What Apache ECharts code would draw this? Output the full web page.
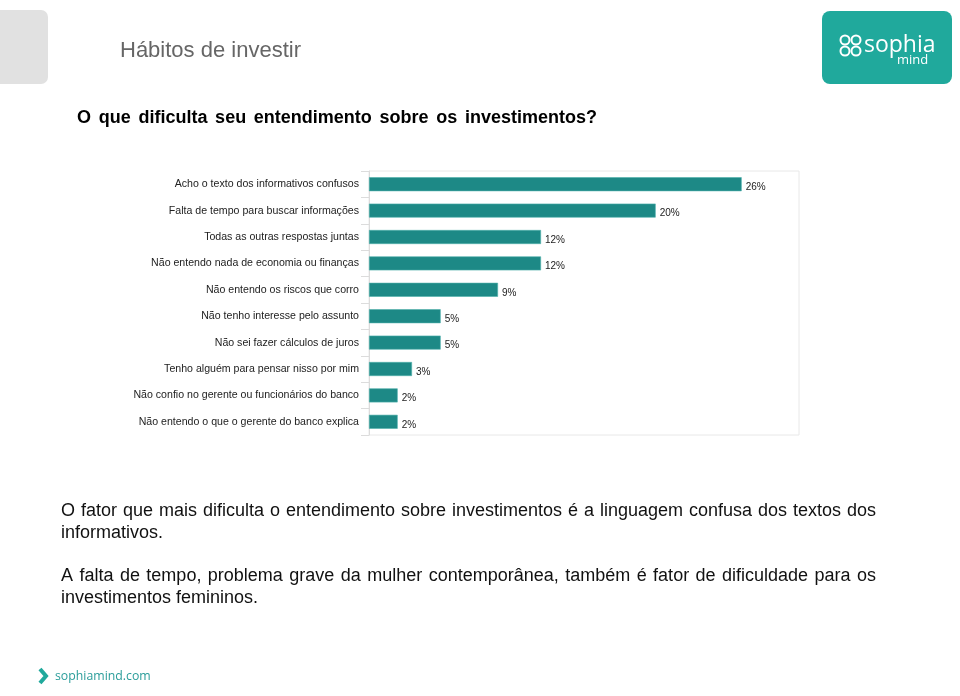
<!DOCTYPE html>
<html><head><meta charset="utf-8">
<script src="https://cdn.jsdelivr.net/npm/echarts@6/dist/echarts.min.js"></script>
<style>html,body{margin:0;padding:0;background:#fff}#c{width:960px;height:696px}</style>
</head><body><div id="c"></div><script>
// ---- data ----
const categories = [
  'Acho o texto dos informativos confusos',
  'Falta de tempo para buscar informações',
  'Todas as outras respostas juntas',
  'Não entendo nada de economia ou finanças',
  'Não entendo os riscos que corro',
  'Não tenho interesse pelo assunto',
  'Não sei fazer cálculos de juros',
  'Tenho alguém para pensar nisso por mim',
  'Não confio no gerente ou funcionários do banco',
  'Não entendo o que o gerente do banco explica'
];
const values = [26, 20, 12, 12, 9, 5, 5, 3, 2, 2];
const xMax = 30;
const pageTitle = 'Hábitos de investir';
const chartTitle = 'O que dificulta seu entendimento sobre os investimentos?';
const paragraphLines = [
  ['O fator que mais dificulta o entendimento sobre investimentos é a linguagem confusa dos textos dos', true],
  ['informativos.', false],
  ['A falta de tempo, problema grave da mulher contemporânea, também é fator de dificuldade para os', true],
  ['investimentos femininos.', false]
];
const footerText = 'sophiamind.com';

// ---- helpers ----
const FAMILY = 'Liberation Sans';
const measureCtx = document.createElement('canvas').getContext('2d');
function textLine(text, x, y, width, size, weight, color, justify) {
  if (!justify) {
    return [{type:'text', x:x, y:y, style:{text:text, fontSize:size, fontFamily:FAMILY, fontWeight:weight, fill:color, verticalAlign:'middle', align:'left'}, silent:true}];
  }
  measureCtx.font = weight + ' ' + size + 'px "' + FAMILY + '"';
  const words = text.split(' ');
  const ws = words.map(w => measureCtx.measureText(w).width);
  const total = ws.reduce((a,b)=>a+b,0);
  const gap = (width - total) / (words.length - 1);
  let cx = x; const out = [];
  words.forEach((w,i) => {
    out.push({type:'text', x:cx, y:y, style:{text:w, fontSize:size, fontFamily:FAMILY, fontWeight:weight, fill:color, verticalAlign:'middle', align:'left'}, silent:true});
    cx += ws[i] + gap;
  });
  return out;
}

const TEAL = '#20a99c';
const graphic = [
  {type:'rect', shape:{x:-10, y:10, width:58, height:74, r:7}, style:{fill:'#e1e1e1'}, silent:true},
  {type:'text', x:120, y:51, style:{text:pageTitle, fontSize:22, fontFamily:FAMILY, fill:'#666', verticalAlign:'middle'}, silent:true},
  // logo
  {type:'rect', shape:{x:822, y:11, width:130, height:73, r:8}, style:{fill:TEAL}, silent:true},
  {type:'circle', shape:{cx:845, cy:40, r:4.5}, style:{fill:TEAL, stroke:'#fff', lineWidth:2}, silent:true},
  {type:'circle', shape:{cx:856, cy:40, r:4.5}, style:{fill:TEAL, stroke:'#fff', lineWidth:2}, silent:true},
  {type:'circle', shape:{cx:845, cy:51, r:4.5}, style:{fill:TEAL, stroke:'#fff', lineWidth:2}, silent:true},
  {type:'circle', shape:{cx:856, cy:51, r:4.5}, style:{fill:TEAL, stroke:'#fff', lineWidth:2}, silent:true},
  {type:'text', x:864, y:45, style:{text:'sophia', fontSize:23, fontFamily:'Open Sans', fill:'#fff', verticalAlign:'middle'}, silent:true},
  {type:'text', x:897, y:60, style:{text:'mind', fontSize:13, fontFamily:'Open Sans', fill:'#fff', verticalAlign:'middle'}, silent:true},
  // footer
  {type:'polyline', shape:{points:[[40,669],[46,676],[40,683]]}, style:{stroke:TEAL, lineWidth:4, fill:null}, silent:true},
  {type:'text', x:55, y:676, style:{text:footerText, fontSize:12.3, fontFamily:'Open Sans', fill:'#2a9d9a', verticalAlign:'middle'}, silent:true}
];
textLine(chartTitle, 77, 118, 520, 18, 'bold', '#000', true).forEach(e => graphic.push(e));
const paraY = [511.5, 533.5, 576.5, 598.5];
paragraphLines.forEach((l, i) => {
  textLine(l[0], 61, paraY[i], 815, 18, 'normal', '#111', l[1]).forEach(e => graphic.push(e));
});

const chart = echarts.init(document.getElementById('c'), null, {renderer:'canvas'});
chart.setOption({
  animation:false,
  backgroundColor:'#fff',
  grid:{left:369, right:161, top:171, bottom:261, show:true, borderColor:'#e8e8e8', borderWidth:1, backgroundColor:'transparent'},
  xAxis:{type:'value', min:0, max:xMax, show:false},
  yAxis:{type:'category', inverse:true, data:categories,
    axisLine:{show:true, lineStyle:{color:'#dcdcdc'}},
    axisTick:{show:true, length:8, lineStyle:{color:'#dcdcdc'}},
    axisLabel:{fontSize:10.6, fontFamily:FAMILY, color:'#222', margin:10, padding:[3,0,0,0]}
  },
  series:[{type:'bar', data:values, barCategoryGap:'47%',
    itemStyle:{color:'#1d8986', borderColor:'#4fb0ab', borderWidth:0.6},
    label:{show:true, position:'right', distance:4, offset:[0,3], formatter:'{c}%', fontSize:10, fontFamily:FAMILY, color:'#222'}
  }],
  graphic: graphic
});
</script></body></html>
